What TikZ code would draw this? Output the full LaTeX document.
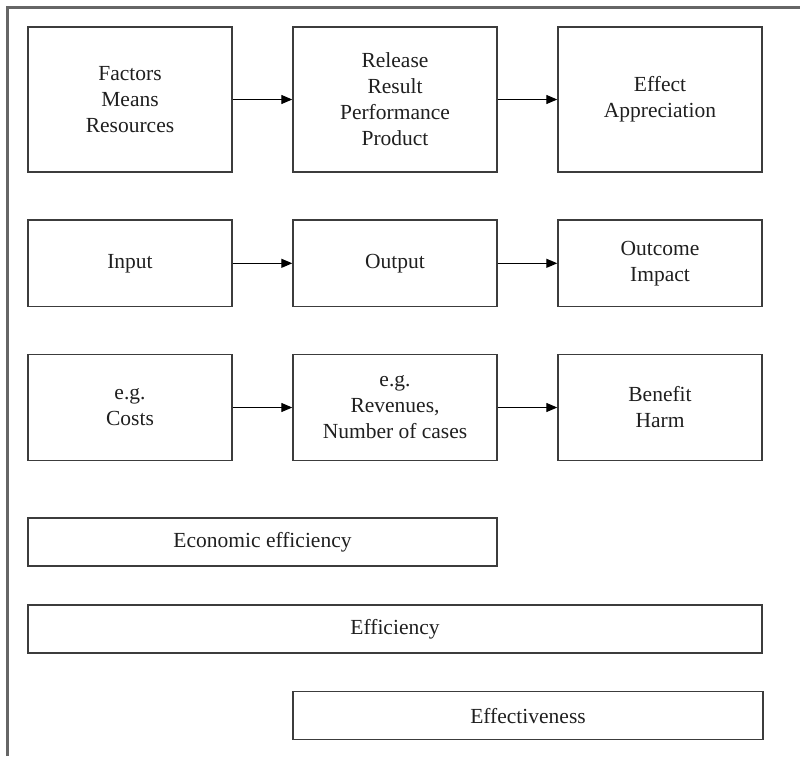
\documentclass[tikz,border=0pt]{standalone}
\usepackage{fontspec}
\setmainfont{Liberation Serif}
\usetikzlibrary{arrows.meta}
\definecolor{boxline}{HTML}{3C3C3C}
\definecolor{frameline}{HTML}{666666}
\tikzset{
  box/.style={draw=boxline, line width=1.4pt, rectangle, inner sep=0pt, align=center,
    font=\fontsize{21.5}{26}\selectfont, text=black!88},
  bigbox/.style={box, minimum width=204pt, minimum height=145pt},
  midbox/.style={box, minimum width=204pt, minimum height=86.7pt},
  lowbox/.style={box, minimum width=204pt, minimum height=106.4pt},
  barbox/.style={box, minimum height=48pt},
  conn/.style={draw=black, line width=1.2pt, -{Triangle[length=11pt,width=9pt]}}
}
\begin{document}
\begin{tikzpicture}[x=1pt,y=-1pt]
\useasboundingbox (0,0) rectangle (800,756);
\coordinate (fbl) at (7.5,756);
\coordinate (ftl) at (7.5,7.5);
\coordinate (ftr) at (800,7.5);
\draw[frameline, line width=2.2pt] (fbl) -- (ftl) -- (ftr);

\node[bigbox] (a1) at (130,99.5) {Factors\\Means\\Resources};
\node[bigbox] (a2) at (395,99.5) {Release\\Result\\Performance\\Product};
\node[bigbox] (a3) at (660,99.5) {Effect\\Appreciation};

\node[midbox] (b1) at (130,263.3) {Input};
\node[midbox] (b2) at (395,263.3) {Output};
\node[midbox] (b3) at (660,263.3) {Outcome\\Impact};

\node[lowbox] (c1) at (130,407.5) {e.g.\\Costs};
\node[lowbox] (c2) at (395,407.5) {e.g.\\Revenues,\\Number of cases};
\node[lowbox] (c3) at (660,407.5) {Benefit\\Harm};

\node[barbox, minimum width=469pt] (d1) at (262.5,541.8) {Economic efficiency};
\node[barbox, minimum width=734pt] (d2) at (395,629) {Efficiency};
\node[barbox, minimum width=470pt] (d3) at (528,715.7) {Effectiveness};

\draw[conn] (a1) -- (a2);
\draw[conn] (a2) -- (a3);
\draw[conn] (b1) -- (b2);
\draw[conn] (b2) -- (b3);
\draw[conn] (c1) -- (c2);
\draw[conn] (c2) -- (c3);
\end{tikzpicture}
\end{document}
